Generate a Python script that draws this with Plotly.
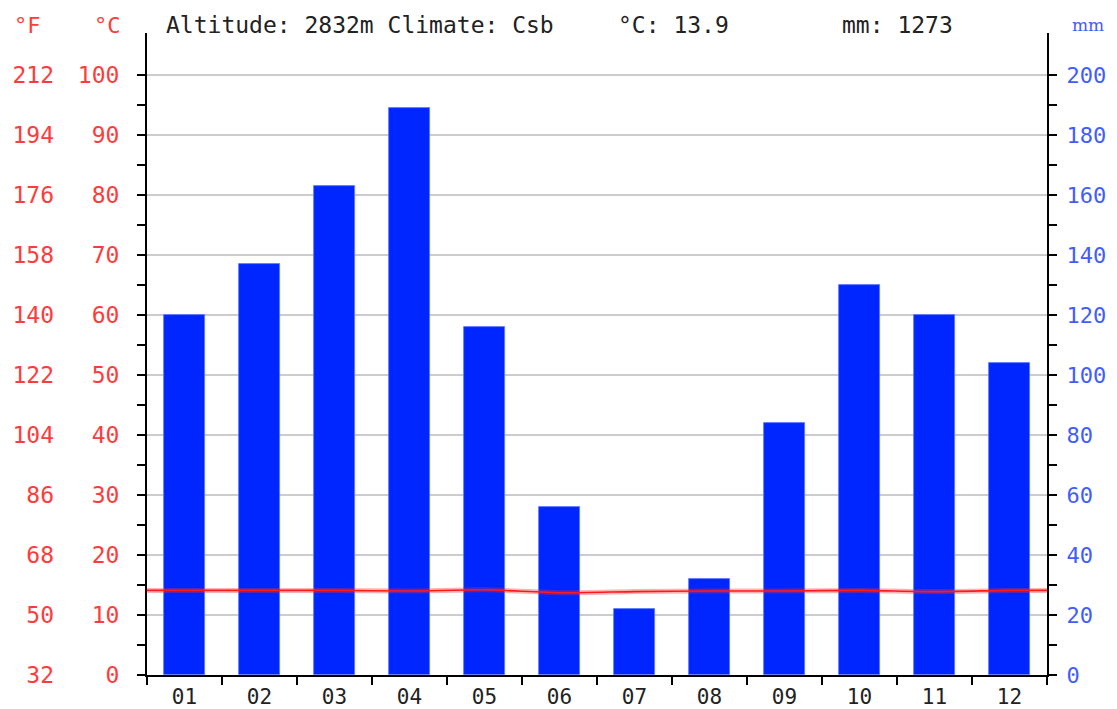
import plotly.graph_objects as go

months = ["01", "02", "03", "04", "05", "06", "07", "08", "09", "10", "11", "12"]
month_pos = [1, 2, 3, 4, 5, 6, 7, 8, 9, 10, 11, 12]
precip_mm = [120, 137, 163, 189, 116, 56, 22, 32, 84, 130, 120, 104]
temp_c = [14.1, 14.1, 14.1, 14.0, 14.2, 13.7, 13.9, 14.0, 14.0, 14.1, 13.9, 14.1]
temp_edge_x = [0.5, 12.5]
temp_edge_c = [14.1, 14.1]

c_ticks = [0, 10, 20, 30, 40, 50, 60, 70, 80, 90, 100]
c_minor = [5, 15, 25, 35, 45, 55, 65, 75, 85, 95]
f_ticks = [32, 50, 68, 86, 104, 122, 140, 158, 176, 194, 212]
mm_ticks = [0, 20, 40, 60, 80, 100, 120, 140, 160, 180, 200]
mm_minor = [10, 30, 50, 70, 90, 110, 130, 150, 170, 190]

altitude_text = "Altitude: 2832m Climate: Csb"
mean_temp_text = "°C: 13.9"
total_precip_text = "mm: 1273"

# page is shown with an 8px body margin; work in figure coordinates
OFF = 8
W, H = 1117 - OFF, 709 - OFF
PL, PR, PT, PB = 147 - OFF, 1047 - OFF, 33 - OFF, 675 - OFF
C_TOP = (PB - PT) / 6.0  # 6 px per °C
FONT = "DejaVu Sans Mono"
RED = "#ff3b3b"
BLUE = "#3f5dff"

line_x = [temp_edge_x[0]] + month_pos + [temp_edge_x[1]]
line_y = [temp_edge_c[0]] + temp_c + [temp_edge_c[1]]
line_y_f = [c * 9 / 5 + 32 for c in line_y]

fig = go.Figure()
fig.add_trace(go.Bar(x=month_pos, y=precip_mm, width=0.54, marker=dict(color="#0026ff", line=dict(color="#5c78ff", width=0.8)),
                     yaxis="y", xaxis="x", showlegend=False))
fig.add_trace(go.Scatter(x=line_x, y=line_y_f, mode="lines", yaxis="y3", line=dict(color="rgba(0,0,0,0)", width=0),
                         showlegend=False, hoverinfo="skip"))
fig.add_trace(go.Scatter(x=line_x, y=line_y, mode="lines", yaxis="y2", line=dict(color="rgba(255,40,40,0.35)", width=5, shape="spline", smoothing=0.6),
                         showlegend=False, hoverinfo="skip"))
fig.add_trace(go.Scatter(x=line_x, y=line_y, mode="lines", yaxis="y2", line=dict(color="#ff1a1a", width=1.6, shape="spline", smoothing=0.6),
                         showlegend=False))

tick_font = dict(family=FONT, size=23)
fig.update_layout(
    width=W, height=H,
    margin=dict(l=0, r=0, t=PT, b=H - PB),
    paper_bgcolor="white", plot_bgcolor="white",
    bargap=0,
    xaxis=dict(domain=[PL / W, PR / W], range=[0.5, 12.5], tickvals=month_pos, ticktext=months,
               showline=True, linecolor="black", linewidth=2, ticks="", showgrid=False, zeroline=False,
               minor=dict(tickvals=[i + 0.5 for i in range(13)], ticks="outside", ticklen=8, tickcolor="black", tickwidth=2, showgrid=False),
               tickfont=dict(family=FONT, size=21, color="#222222"), ticklabelstandoff=2, automargin=False),
    yaxis=dict(side="right", range=[0, 2 * C_TOP], tickvals=mm_ticks, showline=True, linecolor="black", linewidth=2,
               ticks="outside", ticklen=8, tickcolor="black", tickwidth=2,
               minor=dict(tickvals=mm_minor, ticks="outside", ticklen=8, tickcolor="black", tickwidth=2, showgrid=False),
               showgrid=True, gridcolor="#cccccc", gridwidth=1.5, zeroline=False,
               tickfont=dict(family=FONT, size=22, color=BLUE), ticklabelstandoff=5, automargin=False),
    yaxis2=dict(side="left", overlaying="y", anchor="x", range=[0, C_TOP], tickvals=c_ticks, showline=True, linecolor="black", linewidth=2,
                ticks="outside", ticklen=8, tickcolor="black", tickwidth=2,
                minor=dict(tickvals=c_minor, ticks="outside", ticklen=8, tickcolor="black", tickwidth=2, showgrid=False),
                showgrid=False, zeroline=False,
                tickfont=dict(color=RED, **tick_font), ticklabelstandoff=13, automargin=False),
    yaxis3=dict(side="left", overlaying="y", anchor="free", position=(54 - OFF) / W, range=[32, 32 + C_TOP * 1.8], tickvals=f_ticks,
                showline=False, ticks="", showgrid=False, zeroline=False,
                tickfont=dict(color=RED, **tick_font), automargin=False),
)

hy = 1 + 8 / (PB - PT)
ann = [
    dict(text="°F", x=(12 - OFF) / W, xanchor="left", font=dict(family=FONT, size=22, color=RED)),
    dict(text="°C", x=(92 - OFF) / W, xanchor="left", font=dict(family=FONT, size=22, color=RED)),
    dict(text="mm", x=(1070 - OFF) / W, xanchor="left", font=dict(family="DejaVu Serif", size=17, color=BLUE)),
    dict(text=altitude_text, x=(164 - OFF) / W, xanchor="left", font=dict(family=FONT, size=23, color="#222222")),
    dict(text=mean_temp_text, x=(616 - OFF) / W, xanchor="left", font=dict(family=FONT, size=23, color="#222222")),
    dict(text=total_precip_text, x=(840 - OFF) / W, xanchor="left", font=dict(family=FONT, size=23, color="#222222")),
]
for a in ann:
    fig.add_annotation(xref="paper", yref="paper", y=hy, yanchor="middle", showarrow=False, **a)

fig.write_html(
    "out.html",
    post_script="document.documentElement.style.overflow='hidden';document.body.style.overflow='hidden';",
)
